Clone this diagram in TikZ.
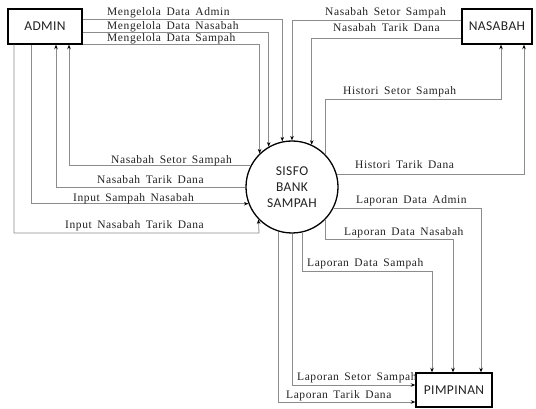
\documentclass[tikz,border=0pt]{standalone}
\usepackage{fontspec}
\setmainfont{Liberation Serif}
\newfontfamily\boxfont{Carlito}[LetterSpace=3]
\newfontfamily\lblfont{Liberation Serif}[LetterSpace=5,WordSpace=1.6]
\usetikzlibrary{arrows.meta,calc}
\definecolor{ln}{HTML}{8C8C8C}
\definecolor{tx}{HTML}{222222}
\begin{document}
\begin{tikzpicture}[x=1pt,y=-1pt,
  ent/.style={draw=black,line width=1.4pt,inner sep=0pt,text=tx,font=\boxfont\fontsize{13.5}{16}\selectfont},
  proc/.style={circle,draw=black,line width=1.3pt,minimum size=92pt,inner sep=0pt,align=center,text=tx,font=\boxfont\fontsize{13.5}{16}\selectfont},
  flow/.style={draw=ln,line width=0.8pt,-{Stealth[length=4.5pt,width=3.5pt,color=black]}},
  lbl/.style={anchor=base west,inner sep=0pt,text=tx,font=\lblfont\fontsize{11.5}{12}\selectfont}]
\useasboundingbox (0,0) rectangle (536,409);
% entities
\node[ent,minimum width=74pt,minimum height=35pt] (admin) at (45,26.5) {ADMIN};
\node[ent,minimum width=70pt,minimum height=35pt] (nasabah) at (497,26.5) {NASABAH};
\node[ent,minimum width=76pt,minimum height=34pt] (pimpinan) at (454,390) {PIMPINAN};
\node[proc] (sisfo) at (292,187) {SISFO\\BANK\\SAMPAH};
% helper coordinates
\coordinate (hs) at (501,99);
\coordinate (it) at (259,233);
\coordinate (ln1) at (453,239);
\coordinate (ls1) at (432,271);
% ADMIN -> SISFO
\draw[flow] (admin.east |- 0,19) -| (sisfo.102.6);
\draw[flow] (admin.east |- 0,32) -| (sisfo.120);
\draw[flow] (admin.east |- 0,44) -| (sisfo.134.1);
\node[lbl] (l1) at (107,16) {Mengelola Data Admin};
\node[lbl] (l2) at (107,29.5) {Mengelola Data Nasabah};
\node[lbl] (l3) at (107,42) {Mengelola Data Sampah};
% NASABAH -> SISFO
\draw[flow] (nasabah.west |- 0,20) -| (sisfo.90);
\draw[flow] (nasabah.west |- 0,38) -| (sisfo.65.6);
\node[lbl] (l4) at (325,16) {Nasabah Setor Sampah};
\node[lbl] (l5) at (333,32) {Nasabah Tarik Dana};
% SISFO -> NASABAH
\draw[flow] (sisfo.45.9) |- (hs) -- (hs |- nasabah.south);
\draw[flow] (sisfo.16.4) -| ([xshift=27pt]nasabah.south);
\node[lbl] (l6) at (343,95) {Histori Setor Sampah};
\node[lbl] (l7) at (355,169) {Histori Tarik Dana};
% SISFO -> ADMIN
\draw[flow] (sisfo.152.8) -| ([xshift=24pt]admin.south);
\draw[flow] (sisfo.180) -| ([xshift=11pt]admin.south);
\node[lbl] (l8) at (111,163.5) {Nasabah Setor Sampah};
\node[lbl] (l9) at (97,184) {Nasabah Tarik Dana};
% ADMIN -> SISFO (input)
\draw[flow] ([xshift=-14pt]admin.south) |- (sisfo.201.7);
\draw[flow] ([xshift=-31pt]admin.south) |- (it) -- (sisfo.224.2);
\node[lbl] (l10) at (73,201) {Input Sampah Nasabah};
\node[lbl] (l11) at (65,229) {Input Nasabah Tarik Dana};
% SISFO -> PIMPINAN
\draw[flow] (sisfo.-27.2) -| ([xshift=27pt]pimpinan.north);
\draw[flow] (sisfo.-45.9) |- (ln1) -- (ln1 |- pimpinan.north);
\draw[flow] (sisfo.-77.4) |- (ls1) -- (ls1 |- pimpinan.north);
\draw[flow] (sisfo.-90) |- ([yshift=5pt]pimpinan.west);
\draw[flow] (sisfo.-107.7) |- ([yshift=-12pt]pimpinan.west);
\node[lbl] (l12) at (356,204) {Laporan Data Admin};
\node[lbl] (l13) at (344,236) {Laporan Data Nasabah};
\node[lbl] (l14) at (307,266) {Laporan Data Sampah};
\node[lbl] (l15) at (297,380) {Laporan Setor Sampah};
\node[lbl] (l16) at (286,398) {Laporan Tarik Dana};
\end{tikzpicture}
\end{document}
